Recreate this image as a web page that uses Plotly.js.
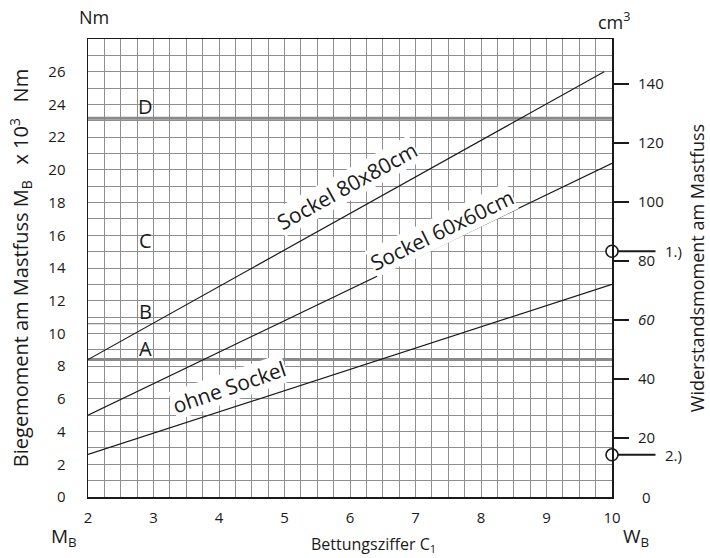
<!DOCTYPE html>
<html>
<head>
<meta charset="utf-8">
<script src="https://cdn.plot.ly/plotly-3.0.1.min.js"></script>
<style>html,body{margin:0;padding:0;background:#fff}#chart{width:710px;height:558px}</style>
</head>
<body>
<div id="chart"></div>
<script>
// Bettungsziffer C1 (x axis)
const c1 = [2, 10];
const c1Sockel80 = [2, 9.88];
// Biegemoment M_B x 10^3 Nm
const ohneSockel = [2.6, 13.0];
const sockel60 = [5.0, 20.4];
const sockel80 = [8.4, 26.0];
// Reference levels A, B, D (M_B x 10^3 Nm)
const refNames = ['A', 'B', 'D'];
const refLevels = [8.4, 10.6, 23.15];
const refWidths = [3, 1.2, 3];
// Letter labels
const letterNames = ['A', 'B', 'C', 'D'];
const letterY = [9.1, 11.35, 15.7, 23.9];
const letterX = 2.88;
// Right axis (Widerstandsmoment, cm^3)
const wTicks = [20, 40, 60, 80, 100, 120, 140];
const wTickText = ['20', '40', '<i>60</i>', '80', '100', '120', '140'];
const markW = [83.3, 14.3];
const markLabels = ['1.)', '2.)'];
// Axis ticks
const xTicks = [2, 3, 4, 5, 6, 7, 8, 9, 10];
const yTicks = [0, 2, 4, 6, 8, 10, 12, 14, 16, 18, 20, 22, 24, 26];

const FONT = 'Open Sans, Noto Sans, sans-serif';
const GRID = '#8e8e8e';
const INK = '#1a1a1a';

const traces = [];
refLevels.forEach((v, i) => {
  traces.push({x: c1, y: [v, v], mode: 'lines', name: refNames[i],
    line: {color: '#8a8a8a', width: refWidths[i]}, hoverinfo: 'skip', showlegend: false});
});
traces.push({x: c1, y: ohneSockel, mode: 'lines', name: 'ohne Sockel', line: {color: INK, width: 1.2}, showlegend: false});
traces.push({x: c1, y: sockel60, mode: 'lines', name: 'Sockel 60x60cm', line: {color: INK, width: 1.2}, showlegend: false});
traces.push({x: c1Sockel80, y: sockel80, mode: 'lines', name: 'Sockel 80x80cm', line: {color: INK, width: 1.2}, showlegend: false});
traces.push({x: markW.map(() => 10), y: markW, yaxis: 'y2', mode: 'markers', cliponaxis: false,
  marker: {symbol: 'circle', size: 12, color: '#fff', line: {color: INK, width: 1.6}}, showlegend: false});

const shapes = markW.map(w => ({type: 'line', xref: 'paper', yref: 'y2', x0: 1.0, x1: 1.083, y0: w, y1: w,
  line: {color: INK, width: 2}, layer: 'below'}));

const annotations = [];
function note(o) { annotations.push(Object.assign({showarrow: false, xanchor: 'center', yanchor: 'middle'}, o)); }
letterNames.forEach((t, i) => note({x: letterX, y: letterY[i], text: t,
  font: {family: FONT, size: 20, color: INK}}));
note({x: 5.95, y: 19.0, text: 'Sockel 80x80cm', textangle: -29,
  bgcolor: '#fff', borderpad: 0, font: {family: FONT, size: 21, color: INK}});
note({x: 7.4, y: 16.3, text: 'Sockel 60x60cm', textangle: -26,
  bgcolor: '#fff', borderpad: 0, font: {family: FONT, size: 21, color: INK}});
note({x: 4.15, y: 6.75, text: 'ohne Sockel', textangle: -19,
  bgcolor: '#fff', borderpad: 0, font: {family: FONT, size: 21, color: INK}});
markW.forEach((w, i) => note({xref: 'paper', yref: 'y2', x: 1.098, y: w, xanchor: 'left',
  text: markLabels[i], font: {family: FONT, size: 15, color: INK}}));
note({xref: 'paper', yref: 'y2', x: 1.066, y: 0, text: '0', font: {family: FONT, size: 15, color: INK}});
note({xref: 'paper', yref: 'paper', x: 0.012, y: 1.047, text: 'Nm', font: {family: FONT, size: 18, color: INK}});
note({xref: 'paper', yref: 'paper', x: 1.004, y: 1.04, text: 'cm<sup>3</sup>', font: {family: FONT, size: 18, color: INK}});
note({xref: 'paper', yref: 'paper', x: -0.046, y: -0.087, text: 'M<sub>B</sub>', font: {family: FONT, size: 19, color: INK}});
note({xref: 'paper', yref: 'paper', x: 1.046, y: -0.087, text: 'W<sub>B</sub>', font: {family: FONT, size: 19, color: INK}});
note({xref: 'paper', yref: 'paper', x: 0.544, y: -0.103, text: 'Bettungsziffer C<sub>1</sub>', font: {family: FONT, size: 16, color: INK}});

const layout = {
  width: 710, height: 558,
  margin: {l: 88, r: 98, t: 39, b: 61},
  paper_bgcolor: '#fff', plot_bgcolor: '#fff',
  font: {family: FONT, size: 15, color: INK},
  showlegend: false,
  xaxis: {range: [2, 10], tickvals: xTicks, ticks: '', ticklabelstandoff: 6,
    showgrid: true, gridcolor: GRID, gridwidth: 1,
    minor: {dtick: 0.25, tick0: 2, showgrid: true, gridcolor: GRID, gridwidth: 1},
    showline: true, mirror: true, linecolor: INK, linewidth: 1.5, zeroline: false, fixedrange: true},
  yaxis: {range: [0, 28], tickvals: yTicks, ticks: '', ticklabelstandoff: 18,
    showgrid: true, gridcolor: GRID, gridwidth: 1,
    minor: {dtick: 1, tick0: 0, showgrid: true, gridcolor: GRID, gridwidth: 1},
    showline: true, mirror: true, linecolor: INK, linewidth: 1.5, zeroline: false, fixedrange: true,
    title: {text: 'Biegemoment am Mastfuss M<sub>B</sub>   x 10<sup>3</sup>   Nm', standoff: 14,
      font: {family: FONT, size: 20, color: INK}}},
  yaxis2: {overlaying: 'y', side: 'right', range: [0, 155.25], tickvals: wTicks, ticktext: wTickText,
    ticks: 'outside', ticklen: 16, tickcolor: INK, tickwidth: 1.2, ticklabelstandoff: 6,
    showgrid: false, zeroline: false, showline: false, fixedrange: true,
    title: {text: 'Widerstandsmoment am Mastfuss', standoff: 28, font: {family: FONT, size: 18, color: INK}}},
  shapes: shapes,
  annotations: annotations
};

Plotly.newPlot('chart', traces, layout, {displayModeBar: false, staticPlot: true});
</script>
</body>
</html>
